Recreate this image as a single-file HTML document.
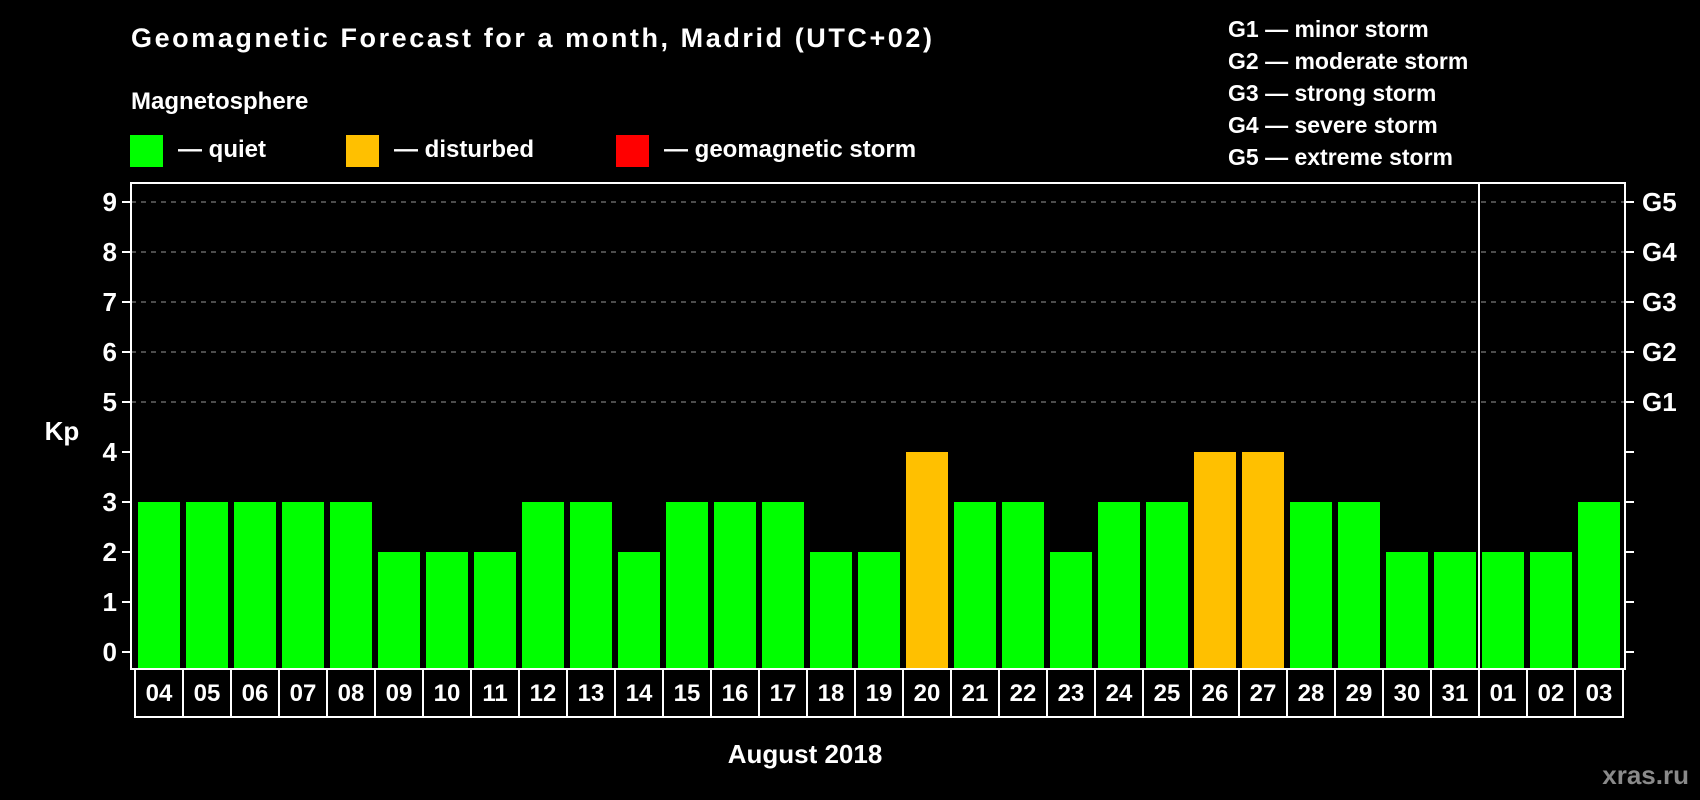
<!DOCTYPE html>
<html><head><meta charset="utf-8"><style>
html,body{margin:0;padding:0;background:#000;}
svg{display:block;font-family:"Liberation Sans",Arial,sans-serif;font-weight:bold;}
</style></head><body>
<svg id="chart" width="1700" height="800" viewBox="0 0 1700 800">
<rect x="0" y="0" width="1700" height="800" fill="#000"/>
<text x="131" y="47" fill="#fff" font-size="27" textLength="801">Geomagnetic Forecast for a month, Madrid (UTC+02)</text>
<text x="131" y="109" fill="#fff" font-size="24">Magnetosphere</text>
<g><rect x="130" y="135" width="33" height="32" fill="#00ff00"/><text x="178" y="157" fill="#fff" font-size="24">— quiet</text></g>
<g><rect x="346" y="135" width="33" height="32" fill="#ffc000"/><text x="394" y="157" fill="#fff" font-size="24">— disturbed</text></g>
<g><rect x="616" y="135" width="33" height="32" fill="#ff0000"/><text x="664" y="157" fill="#fff" font-size="24">— geomagnetic storm</text></g>
<g fill="#fff" font-size="23">
<text x="1228" y="37">G1 — minor storm</text>
<text x="1228" y="69">G2 — moderate storm</text>
<text x="1228" y="101">G3 — strong storm</text>
<text x="1228" y="133">G4 — severe storm</text>
<text x="1228" y="165">G5 — extreme storm</text>
</g>
<g id="grid"></g>
<g id="bars"></g>
<rect x="131" y="183" width="1494" height="486" fill="none" stroke="#fff" stroke-width="2"/>
<line x1="1479" y1="183" x2="1479" y2="669" stroke="#fff" stroke-width="2"/>
<g id="axes"></g>
<g id="dates"></g>
<text x="62" y="440" fill="#fff" font-size="26" text-anchor="middle">Kp</text>
<text x="805" y="763" fill="#fff" font-size="26" text-anchor="middle">August 2018</text>
<text x="1689" y="784" fill="#8a8a8a" font-size="26" text-anchor="end">xras.ru</text>
</svg>
<script>
const days = ["04","05","06","07","08","09","10","11","12","13","14","15","16","17","18","19","20","21","22","23","24","25","26","27","28","29","30","31","01","02","03"];
const kpValues = [3,3,3,3,3,2,2,2,3,3,2,3,3,3,2,2,4,3,3,2,3,3,4,4,3,3,2,2,2,2,3];
const yTicks = [0,1,2,3,4,5,6,7,8,9];
const stormLabels = ["G1","G2","G3","G4","G5"];
const stormLevels = [5,6,7,8,9];

const NS = "http://www.w3.org/2000/svg";
const y = v => 652 - v * 50;
const xCell = i => 135 + i * 48;
const barBottom = 668;
function mk(tag, attrs, parent){const e=document.createElementNS(NS,tag);for(const k in attrs)e.setAttribute(k,attrs[k]);parent.appendChild(e);return e;}
const grid=document.getElementById('grid'),bars=document.getElementById('bars'),axes=document.getElementById('axes'),dates=document.getElementById('dates');
stormLevels.forEach(v=>{
  const l=mk('line',{x1:131,x2:1625,y1:y(v),y2:y(v),stroke:'#999','stroke-width':1,'stroke-dasharray':'5,5'},grid);
  
  
});
yTicks.forEach(v=>{
  const t=mk('line',{x1:122,x2:131,y1:y(v),y2:y(v),stroke:'#fff','stroke-width':2},axes);
  
  
  const t2=mk('line',{x1:1625,x2:1634,y1:y(v),y2:y(v),stroke:'#fff','stroke-width':2},axes);
  
  
  const lb=mk('text',{x:117,y:y(v)+9,fill:'#fff','font-size':26,'text-anchor':'end'},axes);
  lb.textContent=v;
  
  
});
stormLabels.forEach((s,i)=>{
  const lb=mk('text',{x:1642,y:y(stormLevels[i])+9,fill:'#fff','font-size':26},axes);
  lb.textContent=s;
  
  
});
kpValues.forEach((v,i)=>{
  const c = v>=5?'#ff0000':(v>=4?'#ffc000':'#00ff00');
  const r=mk('rect',{x:xCell(i)+3,y:y(v),width:42,height:barBottom-y(v),fill:c},bars);
  
  
});
days.forEach((d,i)=>{
  const r=mk('rect',{x:xCell(i),y:669,width:48,height:48,fill:'none',stroke:'#fff','stroke-width':2},dates);
  
  
  const t=mk('text',{x:xCell(i)+24,y:701,fill:'#fff','font-size':24,'text-anchor':'middle'},dates);
  t.textContent=d;
  
  
});
</script>
</body></html>
